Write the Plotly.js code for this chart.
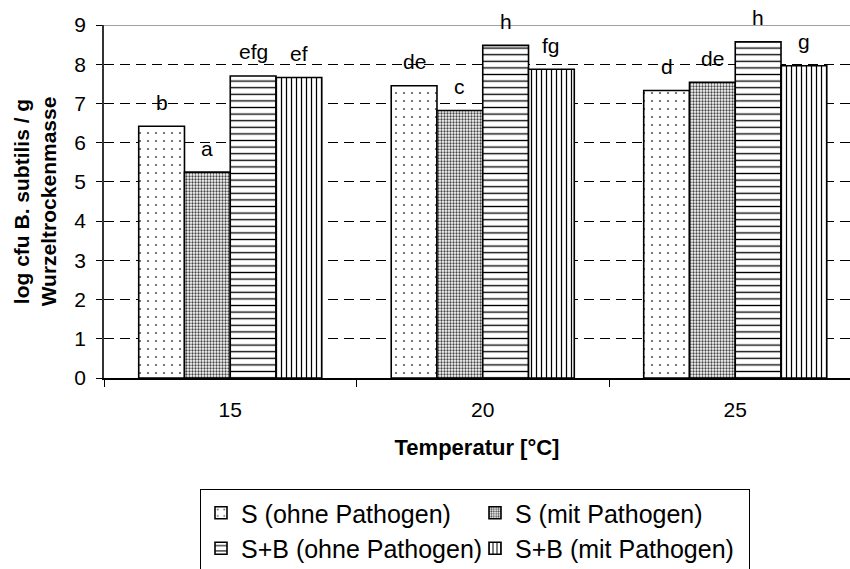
<!DOCTYPE html>
<html>
<head>
<meta charset="utf-8">
<script src="https://cdn.plot.ly/plotly-3.0.1.min.js"></script>
<style>html,body{margin:0;padding:0;background:#fff}#chart{width:850px;height:569px}</style>
</head>
<body>
<div id="chart"></div>
<script>
const categories = ["15", "20", "25"];
const seriesNames = ["S (ohne Pathogen)", "S (mit Pathogen)", "S+B (ohne Pathogen)", "S+B (mit Pathogen)"];
const sOhne = [6.42, 7.45, 7.33];
const sMit = [5.25, 6.82, 7.54];
const sbOhne = [7.70, 8.48, 8.57];
const sbMit = [7.66, 7.87, 7.96];
const lettersSOhne = ["b", "de", "d"];
const lettersSMit = ["a", "c", "de"];
const lettersSBOhne = ["efg", "h", "h"];
const lettersSBMit = ["ef", "fg", "g"];
const yTicks = [0, 1, 2, 3, 4, 5, 6, 7, 8, 9];

const values = [sOhne, sMit, sbOhne, sbMit];
const letters = [lettersSOhne, lettersSMit, lettersSBOhne, lettersSBMit];
const patterns = [
  {shape: ".", size: 8, solidity: 0.06, fgcolor: "#555", bgcolor: "#fff", fillmode: "replace"},
  {shape: ".", size: 3, solidity: 0.45, fgcolor: "#444", bgcolor: "#fff", fillmode: "replace"},
  {shape: "-", size: 6.6, solidity: 0.2, fgcolor: "#000", bgcolor: "#fff", fillmode: "replace"},
  {shape: "|", size: 5, solidity: 0.25, fgcolor: "#000", bgcolor: "#fff", fillmode: "replace"}
];
const bargap = 0.275;
const barW = (1 - bargap) / 4;
const FONT = "Liberation Sans, Arial, sans-serif";

const traces = values.map((v, j) => ({
  type: "bar",
  name: seriesNames[j],
  x: categories,
  y: v,
  marker: {color: "#fff", pattern: patterns[j], line: {color: "#000", width: 1.6}},
  hoverinfo: "skip"
}));

const annotations = [];
values.forEach((v, j) => {
  v.forEach((val, i) => {
    annotations.push({
      xref: "x", yref: "y", x: i + (j - 1.5) * barW, y: val,
      text: letters[j][i], showarrow: false, yshift: 24, yanchor: "middle",
      font: {family: FONT, size: 21, color: "#000"}
    });
  });
});

const layout = {
  width: 850, height: 569,
  margin: {l: 104, r: 0, t: 25, b: 191, autoexpand: false},
  paper_bgcolor: "#fff", plot_bgcolor: "#fff",
  font: {family: FONT, size: 21, color: "#000"},
  barmode: "group", bargap: bargap, bargroupgap: 0,
  showlegend: true,
  legend: {
    orientation: "h", x: (200 - 104) / 746, xanchor: "left", y: (378 - 489) / 353, yanchor: "top",
    font: {size: 25, color: "#000"}, bordercolor: "#000", borderwidth: 1, bgcolor: "#fff",
    entrywidth: 229, entrywidthmode: "pixels", traceorder: "normal"
  },
  xaxis: {
    type: "category", range: [-0.5, -0.5 + 746 / 252.5],
    showline: true, linecolor: "#000", linewidth: 1.5,
    ticks: "outside", tickson: "boundaries", ticklen: 7, tickcolor: "#000", tickwidth: 1,
    ticklabelstandoff: 12, showgrid: false, zeroline: false,
    tickfont: {size: 21},
    title: {text: "<b>Temperatur [°C]</b>", font: {size: 22}, standoff: 20}
  },
  yaxis: {
    range: [0, 9], tickvals: yTicks, ticktext: yTicks.map(String),
    showline: true, linecolor: "#333", linewidth: 1.8,
    ticks: "outside", ticklen: 6, tickcolor: "#000", tickwidth: 1,
    ticklabelstandoff: 6,
    showgrid: true, gridcolor: "#000", gridwidth: 1, griddash: "10px,6px", zeroline: false,
    tickfont: {size: 21},
    title: {text: "<b>log cfu B. subtilis / g<br>Wurzeltrockenmasse</b>", font: {size: 21}, standoff: 12}
  },
  shapes: [
    {type: "line", xref: "paper", yref: "y", x0: 0, x1: 1, y0: 9, y1: 9, line: {color: "#808080", width: 1.5}}
  ],
  annotations: annotations
};

Plotly.newPlot("chart", traces, layout, {displayModeBar: false, staticPlot: true});
</script>
</body>
</html>
